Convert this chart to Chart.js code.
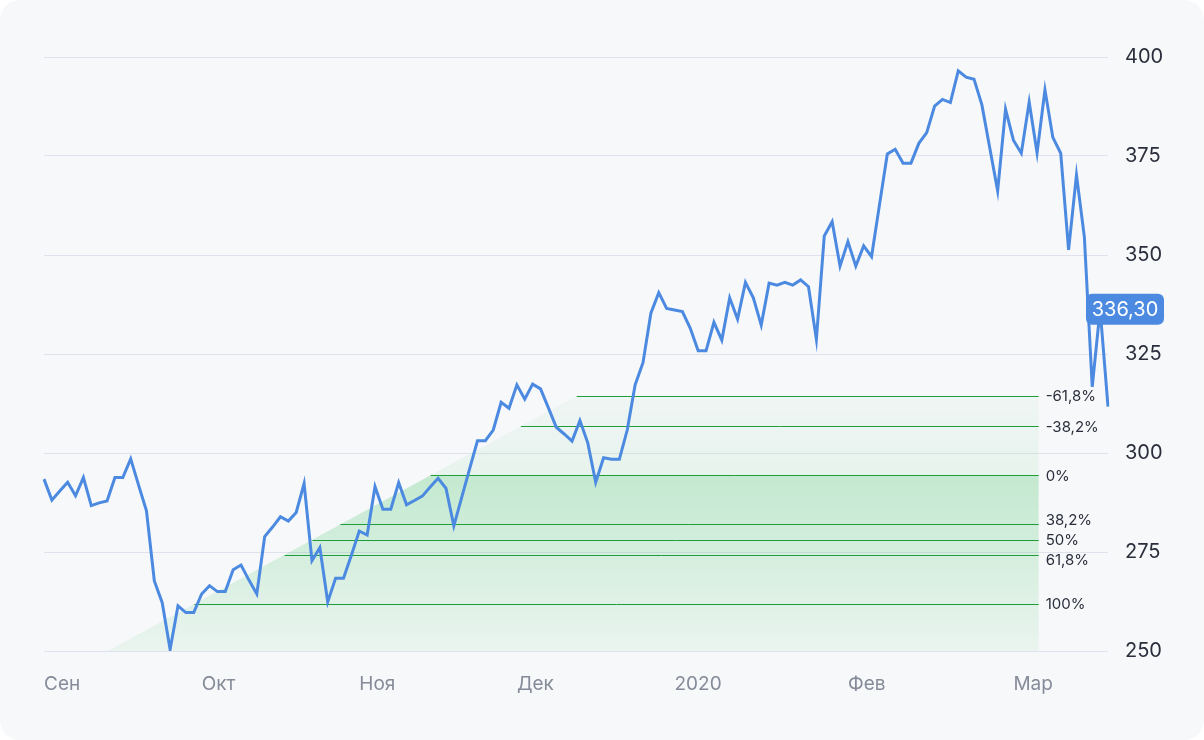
<!DOCTYPE html>
<html>
<head>
<meta charset="utf-8">
<script src="https://cdn.jsdelivr.net/npm/chart.js@4.4.1/dist/chart.umd.min.js"></script>
<style>
  html, body { margin: 0; padding: 0; background: #ffffff; }
  .card {
    position: relative;
    width: 1204px;
    height: 740px;
    background: #f7f8fa;
    border-radius: 20px;
    overflow: hidden;
  }
  canvas { display: block; }
</style>
</head>
<body>
<div class="card"><canvas id="chart" width="1204" height="740"></canvas></div>
<script>
/* Daily closes, Sep 2019 - Mar 2020 */
const prices = [
  293.4, 288.1, 290.4, 292.6, 289.2, 293.8, 286.7, 287.4, 287.9, 293.8,
  293.8, 298.5, 291.9, 285.4, 267.7, 262.2, 250.4, 261.4, 259.7, 259.7,
  264.4, 266.5, 265.0, 265.0, 270.5, 271.7, 267.9, 264.4, 278.9, 281.3,
  283.9, 282.8, 285.0, 292.3, 272.8, 276.1, 262.4, 268.4, 268.4, 274.2,
  280.3, 279.3, 291.5, 285.8, 285.8, 292.5, 286.9, 288.0, 289.1, 291.4,
  293.6, 291.1, 281.6, 288.8, 296.0, 303.1, 303.1, 305.8, 312.8, 311.3,
  317.2, 313.6, 317.4, 316.2, 311.4, 306.5, 304.8, 303.0, 308.2, 302.5,
  292.6, 298.8, 298.4, 298.4, 305.8, 317.2, 322.8, 335.3, 340.5, 336.5,
  336.1, 335.7, 331.5, 325.8, 325.8, 333.0, 328.5, 339.2, 333.8, 343.1,
  339.2, 332.3, 342.9, 342.4, 343.1, 342.4, 343.7, 342.0, 328.7, 354.8,
  358.4, 347.2, 353.4, 347.2, 352.3, 349.6, 362.6, 375.5, 376.7, 373.2,
  373.2, 378.2, 380.9, 387.6, 389.3, 388.5, 396.5, 394.9, 394.4, 387.9,
  377.0, 366.2, 386.8, 379.0, 375.7, 388.6, 375.8, 391.7, 379.7, 375.7,
  351.3, 370.2, 354.6, 316.7, 336.3, 311.7
];

/* Month tick labels and the index of the day each one sits on */
const monthNames = ["Сен", "Окт", "Ноя", "Дек", "2020", "Фев", "Мар"];
const monthStarts = [0, 20, 40, 60, 80, 102, 123];

const yTicks = [250, 275, 300, 325, 350, 375, 400];

/* Fibonacci levels: 0% and 100% prices, the trend line they start from */
const fibPercents = [-61.8, -38.2, 0, 38.2, 50, 61.8, 100];
const fibHigh = 294.4;
const fibLow = 261.9;
const fibTrendFrom = [8.1, 250];
const fibTrendTo = [67.6, 314.5];
const fibEndIndex = 126.2;

const lastPrice = 336.3;

const BLUE = "#4b8ae0";
const GREEN_LINE = "#1f9d3b";
const FONT = "Inter, 'DejaVu Sans', sans-serif";

const labels = prices.map((_, i) => {
  const k = monthStarts.indexOf(i);
  return k === -1 ? "" : monthNames[k];
});

function fibValue(pct) {
  return fibHigh - (pct / 100) * (fibHigh - fibLow);
}

function trendIndex(value) {
  const t = (value - fibTrendFrom[1]) / (fibTrendTo[1] - fibTrendFrom[1]);
  return fibTrendFrom[0] + t * (fibTrendTo[0] - fibTrendFrom[0]);
}

function formatNum(v, digits) {
  return v.toFixed(digits).replace(".", ",");
}

/* Green zone, level lines and their labels */
const fibPlugin = {
  id: "fibPlugin",
  beforeDatasetsDraw(chart) {
    const { ctx, chartArea } = chart;
    const x = chart.scales.x;
    const y = chart.scales.y;

    const bottom = y.getPixelForValue(fibTrendFrom[1]);
    const startX = x.getPixelForValue(fibTrendFrom[0]);
    const topVal = fibValue(fibPercents[0]);
    const topY = y.getPixelForValue(topVal);
    const topX = x.getPixelForValue(trendIndex(topVal));
    const zeroVal = fibValue(0);
    const zeroY = y.getPixelForValue(zeroVal);
    const zeroX = x.getPixelForValue(trendIndex(zeroVal));
    const rightX = x.getPixelForValue(fibEndIndex);

    ctx.save();
    ctx.beginPath();
    ctx.rect(chartArea.left, chartArea.top, chartArea.width, chartArea.height);
    ctx.clip();

    /* light part above 0% */
    let grad = ctx.createLinearGradient(0, topY, 0, zeroY);
    grad.addColorStop(0, "rgba(40,190,80,0.04)");
    grad.addColorStop(1, "rgba(40,190,80,0.07)");
    ctx.fillStyle = grad;
    ctx.beginPath();
    ctx.moveTo(zeroX, zeroY);
    ctx.lineTo(topX, topY);
    ctx.lineTo(rightX, topY);
    ctx.lineTo(rightX, zeroY);
    ctx.closePath();
    ctx.fill();

    /* stronger part below 0% */
    grad = ctx.createLinearGradient(0, zeroY, 0, bottom);
    grad.addColorStop(0, "rgba(40,190,80,0.25)");
    grad.addColorStop(1, "rgba(40,190,80,0.06)");
    ctx.fillStyle = grad;
    ctx.beginPath();
    ctx.moveTo(startX, bottom);
    ctx.lineTo(zeroX, zeroY);
    ctx.lineTo(rightX, zeroY);
    ctx.lineTo(rightX, bottom);
    ctx.closePath();
    ctx.fill();

    /* level lines */
    ctx.strokeStyle = GREEN_LINE;
    ctx.lineWidth = 1;
    fibPercents.forEach(pct => {
      const v = fibValue(pct);
      const py = Math.round(y.getPixelForValue(v)) + 0.5;
      ctx.beginPath();
      ctx.moveTo(x.getPixelForValue(trendIndex(v)), py);
      ctx.lineTo(rightX, py);
      ctx.stroke();
    });
    ctx.restore();

    /* labels, pushed apart where they would overlap */
    const ys = fibPercents.map(pct => y.getPixelForValue(fibValue(pct)));
    const gap = 20;
    for (let n = 0; n < 30; n += 1) {
      for (let i = 1; i < ys.length; i += 1) {
        const d = ys[i] - ys[i - 1];
        if (d < gap) {
          ys[i - 1] -= (gap - d) / 2;
          ys[i] += (gap - d) / 2;
        }
      }
    }
    ctx.save();
    ctx.fillStyle = "#2b2e3b";
    ctx.font = `15px ${FONT}`;
    ctx.textAlign = "left";
    ctx.textBaseline = "middle";
    fibPercents.forEach((pct, i) => {
      ctx.fillText(`${formatNum(pct, pct % 1 === 0 ? 0 : 1)}%`, rightX + 7, ys[i] + 1);
    });
    ctx.restore();
  },

  /* Price tag for the latest value */
  afterDatasetsDraw(chart) {
    const { ctx, chartArea } = chart;
    const py = chart.scales.y.getPixelForValue(lastPrice);
    const w = 78;
    const h = 31;
    const left = chartArea.right - 22;
    ctx.save();
    ctx.fillStyle = BLUE;
    ctx.beginPath();
    ctx.roundRect(left, py - h / 2, w, h, 6);
    ctx.fill();
    ctx.fillStyle = "#ffffff";
    ctx.font = `20px ${FONT}`;
    ctx.textAlign = "center";
    ctx.textBaseline = "middle";
    ctx.fillText(formatNum(lastPrice, 2), left + w / 2, py + 1);
    ctx.restore();
  }
};

const ctx = document.getElementById("chart").getContext("2d");

/* eslint-disable no-new */
new Chart(ctx, {
  type: "line",
  data: {
    labels,
    datasets: [
      {
        data: prices,
        borderColor: BLUE,
        backgroundColor: BLUE,
        borderWidth: 3,
        pointRadius: 0,
        tension: 0,
        fill: false
      }
    ]
  },
  options: {
    responsive: false,
    animation: false,
    devicePixelRatio: 1,
    layout: { padding: { left: 44, top: 57, right: 0, bottom: 0 } },
    plugins: {
      legend: { display: false },
      tooltip: { enabled: false }
    },
    scales: {
      x: {
        type: "category",
        offset: false,
        grid: { display: false, drawTicks: false },
        border: { display: false },
        ticks: {
          autoSkip: false,
          maxRotation: 0,
          align: "start",
          padding: 22,
          color: "#868b99",
          font: { family: FONT, size: 19 }
        },
        afterFit(scale) {
          scale.height = 89;
        }
      },
      y: {
        position: "right",
        min: 250,
        max: 400,
        grid: { color: "#dfe2ec", drawTicks: false },
        border: { display: false },
        ticks: {
          padding: 17,
          color: "#2b2e3b",
          font: { family: FONT, size: 20 }
        },
        afterBuildTicks(scale) {
          scale.ticks = yTicks.map(v => ({ value: v }));
        },
        afterFit(scale) {
          scale.width = 96;
        }
      }
    }
  },
  plugins: [fibPlugin]
});
</script>
</body>
</html>
